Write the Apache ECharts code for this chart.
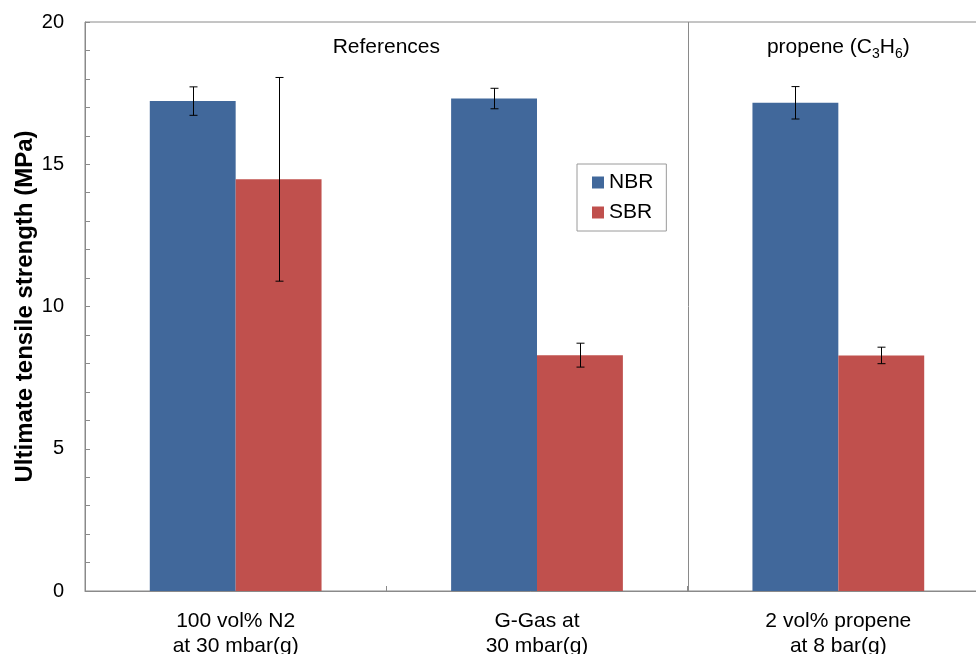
<!DOCTYPE html>
<html>
<head>
<meta charset="utf-8">
<script src="https://cdn.jsdelivr.net/npm/echarts@6/dist/echarts.min.js"></script>
<style>
  html, body { margin: 0; padding: 0; background: #fff; }
  #chart { width: 976px; height: 654px; }
</style>
</head>
<body>
<div id="chart"></div>
<script>
// Test conditions (x categories)
const categories = ['100 vol% N2\nat 30 mbar(g)', 'G-Gas at\n30 mbar(g)', '2 vol% propene\nat 8 bar(g)'];
// Mean ultimate tensile strength (MPa)
const nbrValues = [17.22, 17.31, 17.16];
const sbrValues = [14.47, 8.29, 8.28];
// Standard deviation (half length of error bar)
const nbrErrors = [0.50, 0.36, 0.57];
const sbrErrors = [3.58, 0.42, 0.29];
// Group headings: [first category, last category, text]
const groupHeadings = [[0, 1, 'References'], [2, 2, 'propene']];
// Separator between groups: drawn between these two categories
const groupDividers = [[1, 2]];

const FONT = '"Liberation Sans", Arial, sans-serif';
const BLUE = '#41689B';
const RED = '#C0504D';
const AXIS_GREY = '#8a8a8a';
const CAT_GAP = 0.43;

const errorData = [];
nbrValues.forEach((v, i) => errorData.push([i, v - nbrErrors[i], v + nbrErrors[i], 0]));
sbrValues.forEach((v, i) => errorData.push([i, v - sbrErrors[i], v + sbrErrors[i], 1]));

function renderError(params, api) {
  const cat = api.value(0);
  const lo = api.coord([cat, api.value(1)]);
  const hi = api.coord([cat, api.value(2)]);
  const band = api.size([1, 0])[0];
  const barW = band * (1 - CAT_GAP) / 2;
  const x = Math.round(lo[0] + (api.value(3) === 0 ? -barW / 2 : barW / 2)) + 0.5;
  const cap = 4;
  const style = { stroke: '#000', lineWidth: 1 };
  return {
    type: 'group',
    children: [
      { type: 'line', shape: { x1: x, y1: lo[1], x2: x, y2: hi[1] }, style },
      { type: 'line', shape: { x1: x - cap, y1: lo[1], x2: x + cap, y2: lo[1] }, style },
      { type: 'line', shape: { x1: x - cap, y1: hi[1], x2: x + cap, y2: hi[1] }, style }
    ]
  };
}

function renderDivider(params, api) {
  const a = api.coord([api.value(0), 0]);
  const b = api.coord([api.value(1), 20]);
  const x = Math.round((a[0] + b[0]) / 2) + 0.5;
  return {
    type: 'line',
    shape: { x1: x, y1: a[1], x2: x, y2: b[1] },
    style: { stroke: AXIS_GREY, lineWidth: 1 }
  };
}

function renderHeading(params, api) {
  const a = api.coord([api.value(0), 19.1]);
  const b = api.coord([api.value(1), 19.1]);
  const txt = groupHeadings[params.dataIndex][2];
  const isPropene = txt === 'propene';
  return {
    type: 'text',
    x: (a[0] + b[0]) / 2,
    y: a[1],
    style: {
      text: isPropene ? '{n|propene (C}{s|3}{n|H}{s|6}{n|)}' : txt,
      fontFamily: FONT,
      fontSize: 21,
      fill: '#000',
      align: 'center',
      verticalAlign: 'middle',
      rich: isPropene ? {
        n: { fontFamily: FONT, fontSize: 21, fill: '#000' },
        s: { fontFamily: FONT, fontSize: 14, fill: '#000', padding: [13, 0, 0, 0] }
      } : undefined
    }
  };
}

const chart = echarts.init(document.getElementById('chart'));
chart.setOption({
  animation: false,
  backgroundColor: '#fff',
  textStyle: { fontFamily: FONT },
  grid: {
    left: 85, top: 22, width: 904, height: 569,
    containLabel: false,
    outerBoundsMode: 'none',
    show: true, borderColor: AXIS_GREY, borderWidth: 1, backgroundColor: 'transparent'
  },
  legend: {
    orient: 'vertical',
    left: 577, top: 164,
    data: ['NBR', 'SBR'],
    backgroundColor: '#fff',
    borderColor: '#9a9a9a', borderWidth: 1,
    padding: [8, 13, 8, 15],
    itemWidth: 12, itemHeight: 12, itemGap: 9,
    icon: 'rect',
    textStyle: { fontFamily: FONT, fontSize: 21, color: '#000' }
  },
  xAxis: {
    type: 'category',
    data: categories,
    boundaryGap: true,
    axisLine: { lineStyle: { color: AXIS_GREY, width: 1 } },
    axisTick: { show: true, inside: true, length: 5, lineStyle: { color: AXIS_GREY } },
    axisLabel: { fontFamily: FONT, fontSize: 21, color: '#000', lineHeight: 25, margin: 18 },
    splitLine: { show: false }
  },
  yAxis: {
    type: 'value',
    min: 0, max: 20, interval: 1,
    name: 'Ultimate tensile strength (MPa)',
    nameLocation: 'middle',
    nameGap: 48,
    nameMoveOverlap: false,
    nameTextStyle: { fontFamily: FONT, fontSize: 24, fontWeight: 'bold', color: '#000' },
    axisLine: { show: true, lineStyle: { color: AXIS_GREY, width: 1 } },
    axisTick: { show: true, inside: true, length: 5, lineStyle: { color: AXIS_GREY } },
    axisLabel: {
      fontFamily: FONT, fontSize: 20, color: '#000', margin: 21,
      formatter: (v) => (v % 5 === 0 ? String(v) : '')
    },
    splitLine: { show: false }
  },
  series: [
    {
      name: 'NBR', type: 'bar', data: nbrValues,
      itemStyle: { color: BLUE }, barGap: '0%', barCategoryGap: (CAT_GAP * 100) + '%'
    },
    {
      name: 'SBR', type: 'bar', data: sbrValues,
      itemStyle: { color: RED }, barGap: '0%', barCategoryGap: (CAT_GAP * 100) + '%'
    },
    {
      type: 'custom', renderItem: renderDivider, data: groupDividers, z: 1, silent: true
    },
    {
      type: 'custom', renderItem: renderError, data: errorData, z: 5, silent: true
    },
    {
      type: 'custom', renderItem: renderHeading,
      data: groupHeadings.map(g => [g[0], g[1]]), z: 5, silent: true
    }
  ]
});
</script>
</body>
</html>
